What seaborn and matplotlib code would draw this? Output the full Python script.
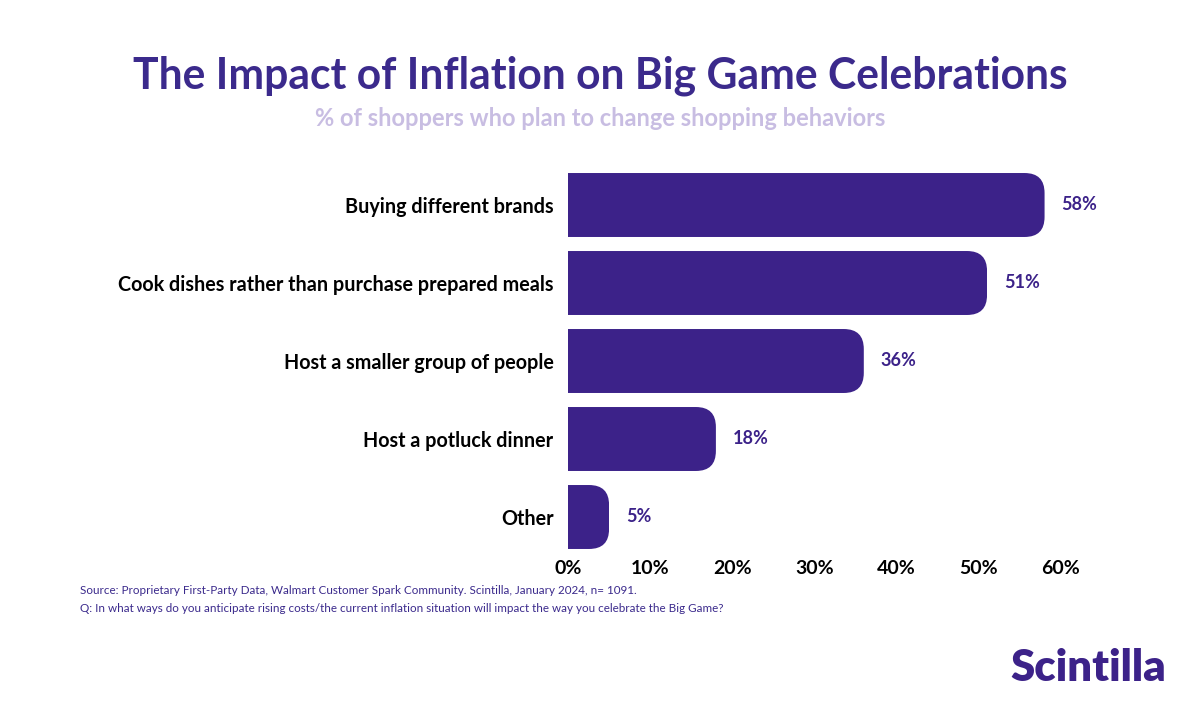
import matplotlib
matplotlib.use("Agg")
import matplotlib.pyplot as plt
import seaborn as sns
import pandas as pd
from matplotlib.patches import FancyBboxPatch
from matplotlib.ticker import FuncFormatter

# Data
categories = ["Buying different brands",
              "Cook dishes rather than purchase prepared meals",
              "Host a smaller group of people",
              "Host a potluck dinner",
              "Other"]
values = [58, 51, 36, 18, 5]
xticks = [0, 10, 20, 30, 40, 50, 60]

purple = "#3c2289"
title_col = "#3b2a8c"
sub_col = "#c8bde2"

df = pd.DataFrame({"behavior": categories, "pct": values})

sns.set_style("white")
plt.rcParams["font.family"] = ["Lato", "DejaVu Sans"]

fig = plt.figure(figsize=(12, 7.13), dpi=100)
ax = fig.add_axes([568 / 1200, 1 - 556 / 713, 493 / 1200, 390 / 713])

sns.barplot(data=df, x="pct", y="behavior", color=purple, width=0.82,
            saturation=1, ax=ax)

ax.set_xlim(0, 60)
ax.set_ylim(4.5, -0.5)

# round off the right-hand end of each bar
px_x = 493 / 60      # pixels per x unit
px_y = 390 / 5       # pixels per y unit
r_px = 20
for p in ax.patches:
    x0, y0 = p.get_x(), p.get_y()
    w, h = p.get_width(), p.get_height()
    clip = FancyBboxPatch((x0 - 10, y0), w + 10, h,
                          boxstyle=f"round,pad=0,rounding_size={r_px / px_x}",
                          mutation_aspect=(1 / px_y) / (1 / px_x),
                          transform=ax.transData, facecolor="none",
                          edgecolor="none")
    ax.add_patch(clip)
    p.set_clip_path(clip)
    p.set_edgecolor("none")

ax.bar_label(ax.containers[0], labels=[f"{v}%" for v in values],
             padding=12, color=purple, fontsize=13, fontweight="bold")

ax.set_xticks(xticks)
ax.xaxis.set_major_formatter(FuncFormatter(lambda v, _: f"{v:.0f}%"))
ax.tick_params(axis="x", labelsize=14, length=0, pad=3)
ax.tick_params(axis="y", labelsize=14.2, length=0, pad=10.5)
for lab in ax.get_xticklabels() + ax.get_yticklabels():
    lab.set_fontweight("bold")
    lab.set_color("black")
ax.set_xlabel("")
ax.set_ylabel("")
sns.despine(ax=ax, left=True, bottom=True)

fig.text(0.5, 1 - 76 / 713, "The Impact of Inflation on Big Game Celebrations",
         ha="center", va="center", fontsize=30.7, fontweight="bold", color=title_col)
fig.text(0.5, 1 - 119 / 713, "% of shoppers who plan to change shopping behaviors",
         ha="center", va="center", fontsize=17, fontweight="bold", color=sub_col)

fig.text(80 / 1200, 1 - 591 / 713,
         "Source: Proprietary First-Party Data, Walmart Customer Spark Community. "
         "Scintilla, January 2024, n= 1091.",
         ha="left", va="center", fontsize=8.4, color=title_col)
fig.text(80 / 1200, 1 - 608 / 713,
         "Q: In what ways do you anticipate rising costs/the current inflation "
         "situation will impact the way you celebrate the Big Game?",
         ha="left", va="center", fontsize=8.4, color=title_col)

fig.text(1166 / 1200, 1 - 668 / 713, "Scintilla", ha="right", va="center",
         fontsize=31.5, fontweight="heavy", color=purple)

fig.savefig("out.png", dpi=100)
